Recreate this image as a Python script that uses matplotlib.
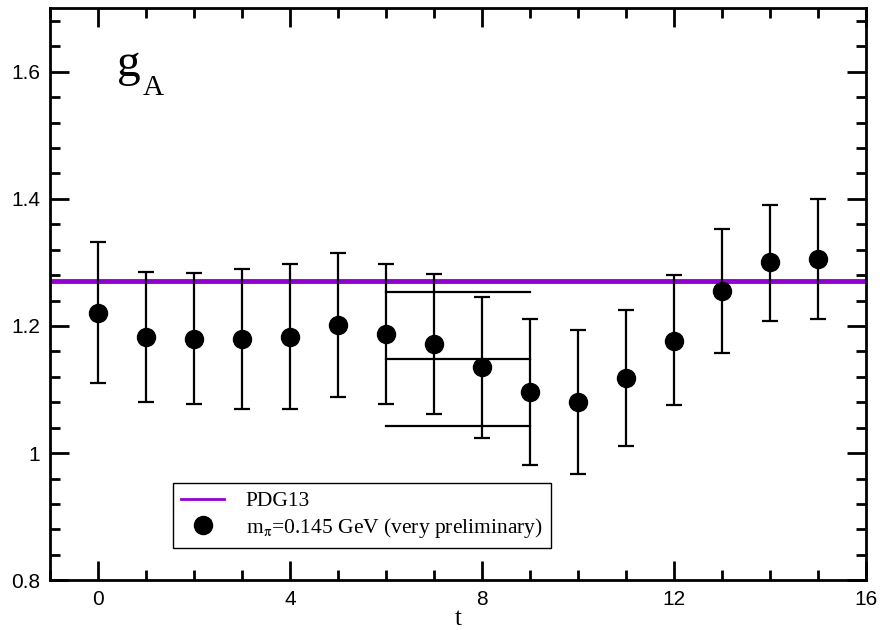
import matplotlib.pyplot as plt
from matplotlib.ticker import MultipleLocator
from matplotlib.lines import Line2D
import numpy as np

plt.rcParams['mathtext.fontset'] = 'stix'

# data
t = np.arange(16)
ga = [1.221, 1.183, 1.180, 1.180, 1.183, 1.202, 1.187, 1.172,
      1.135, 1.096, 1.080, 1.118, 1.177, 1.255, 1.300, 1.305]
ga_hi = [1.332, 1.285, 1.284, 1.290, 1.298, 1.315, 1.298, 1.282,
         1.246, 1.211, 1.193, 1.225, 1.280, 1.353, 1.390, 1.400]
ga_lo = [1.110, 1.080, 1.077, 1.070, 1.070, 1.088, 1.077, 1.061,
         1.024, 0.982, 0.967, 1.011, 1.075, 1.157, 1.208, 1.211]
pdg13 = 1.27
fit_range = [6, 9]
fit_val = 1.148
fit_err = 0.105

ga = np.array(ga)
yerr = [ga - np.array(ga_lo), np.array(ga_hi) - ga]

fig = plt.figure(figsize=(8.8, 6.3), dpi=100)
ax = fig.add_axes([0.057, 0.079, 0.927, 0.908])

ax.axhline(pdg13, color='#9400D3', lw=3.5, zorder=1)
ax.errorbar(t, ga, yerr=yerr, fmt='o', color='black', ms=13, elinewidth=1.6,
            capsize=6, capthick=1.6, zorder=3)
# fit band over t = 6..9
for yv in [fit_val + fit_err, fit_val, fit_val - fit_err]:
    ax.plot(fit_range, [yv, yv], color='black', lw=1.6, zorder=2)

ax.set_xlim(-1, 16)
ax.set_ylim(0.8, 1.7)
ax.xaxis.set_major_locator(MultipleLocator(4))
ax.xaxis.set_minor_locator(MultipleLocator(1))
ax.yaxis.set_minor_locator(MultipleLocator(0.04))
ax.set_yticks([0.8, 1.0, 1.2, 1.4, 1.6])
ax.set_yticklabels(['0.8', '1', '1.2', '1.4', '1.6'])

for s in ax.spines.values():
    s.set_linewidth(2)
ax.tick_params(which='both', direction='in', top=True, right=True, width=2,
               labelsize=15, pad=7)
ax.tick_params(which='major', length=14)
ax.tick_params(which='minor', length=7)
for lab in ax.get_xticklabels() + ax.get_yticklabels():
    lab.set_family('Liberation Sans')

ax.set_xlabel('t', family='Liberation Serif', fontsize=18, labelpad=-1)

ax.text(0.082, 0.881, 'g', transform=ax.transAxes,
        family='Liberation Serif', fontsize=34, va='baseline')
ax.text(0.113, 0.848, 'A', transform=ax.transAxes,
        family='Liberation Serif', fontsize=21, va='baseline')

handles = [Line2D([], [], color='#9400D3', lw=2),
           Line2D([], [], ls='none', marker='o', color='black', ms=13)]
labels = ['PDG13', r'm$_{\mathrm{\pi}}$=0.145 GeV (very preliminary)']
leg = ax.legend(handles, labels, loc='lower left', bbox_to_anchor=(0.15, 0.056),
                borderaxespad=0, prop={'family': 'Liberation Serif', 'size': 15.5},
                fancybox=False, frameon=True, edgecolor='black', framealpha=1,
                handlelength=2, labelspacing=0.2, borderpad=0.4,
                handletextpad=1.0)
leg.get_frame().set_linewidth(1)

fig.savefig('out.png', dpi=100)
